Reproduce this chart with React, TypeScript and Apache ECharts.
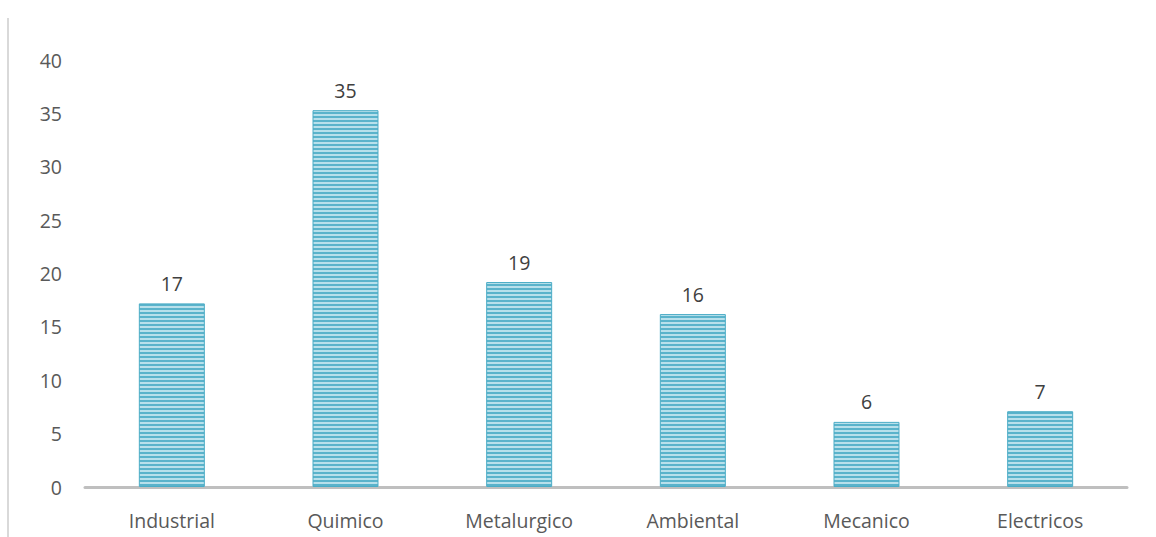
import React, { useEffect, useRef } from "react";
import * as echarts from "echarts";

const categories = ["Industrial", "Quimico", "Metalurgico", "Ambiental", "Mecanico", "Electricos"];
const values = [17.2, 35.3, 19.2, 16.2, 6.1, 7.1];
const yTicks = [0, 5, 10, 15, 20, 25, 30, 35, 40];

function makePattern() {
  const c = document.createElement("canvas");
  c.width = 4;
  c.height = 4;
  const ctx = c.getContext("2d")!;
  ctx.fillStyle = "#b8e0eb";
  ctx.fillRect(0, 0, 4, 4);
  ctx.fillStyle = "#5ab3cb";
  ctx.fillRect(0, 0, 4, 2);
  return c;
}

export default function App() {
  const ref = useRef<HTMLDivElement>(null);
  useEffect(() => {
    document.body.style.margin = "0";
    const chart = echarts.init(ref.current!, null, { renderer: "svg" });
    const font = "'Open Sans', sans-serif";
    chart.setOption({
      animation: false,
      grid: { left: 85, right: 29, top: 60, bottom: 50 },
      graphic: [
        {
          type: "line",
          shape: { x1: 8, y1: 18, x2: 8, y2: 537 },
          style: { stroke: "#d9d9d9", lineWidth: 2 },
        },
      ],
      xAxis: {
        type: "category",
        data: categories,
        axisTick: { show: false },
        axisLine: { lineStyle: { color: "#bfbfbf", width: 3 } },
        axisLabel: { color: "#595959", fontSize: 19.5, fontFamily: font, margin: 23 },
      },
      yAxis: {
        type: "value",
        min: 0,
        max: yTicks[yTicks.length - 1],
        interval: 5,
        splitLine: { show: false },
        axisLine: { show: false },
        axisTick: { show: false },
        axisLabel: { color: "#595959", fontSize: 19.5, fontFamily: font, margin: 23 },
      },
      series: [
        {
          type: "bar",
          data: values,
          barWidth: "38%",
          itemStyle: {
            color: { image: makePattern(), repeat: "repeat" },
            borderColor: "#4bacc6",
            borderWidth: 1,
          },
          label: {
            show: true,
            position: "top",
            distance: 10,
            color: "#404040",
            fontSize: 19.5,
            fontFamily: font,
            formatter: (p: any) => String(Math.round(p.value)),
          },
        },
      ],
    });
    return () => chart.dispose();
  }, []);
  return <div ref={ref} style={{ width: 1156, height: 537 }} />;
}
